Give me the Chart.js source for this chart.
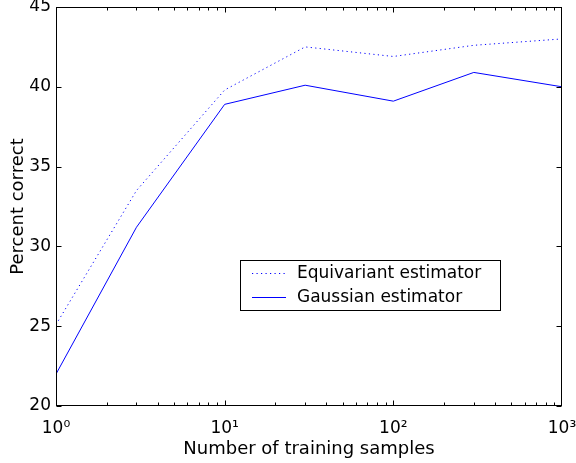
<!DOCTYPE html>
<html>
<head>
<meta charset="utf-8">
<script src="https://cdn.jsdelivr.net/npm/chart.js@4/dist/chart.umd.min.js"></script>
<style>
html,body{margin:0;padding:0;background:#fff;}
canvas{display:block;}
</style>
</head>
<body>
<canvas id="c" width="576" height="463"></canvas>
<script>
// ---- data ----
const samples = [1, 3, 10, 30, 100, 300, 1000];
const equivariant = [25.1, 33.5, 39.8, 42.5, 41.9, 42.6, 43.0];
const gaussian = [22.0, 31.2, 38.9, 40.1, 39.1, 40.9, 40.0];
const seriesLabels = ['Equivariant estimator', 'Gaussian estimator'];
const xTickValues = [1, 10, 100, 1000];
const xTickLabels = ['10\u2070', '10\u00B9', '10\u00B2', '10\u00B3'];
const yTickValues = [20, 25, 30, 35, 40, 45];
const xTitle = 'Number of training samples';
const yTitle = 'Percent correct';

const FONT = '"DejaVu Sans", "Liberation Sans", Arial, sans-serif';

const toPoints = ys => samples.map((x, i) => ({x: x, y: ys[i]}));

const framePlugin = {
  id: 'frame',
  afterDatasetsDraw(chart) {
    const ctx = chart.ctx;
    const a = chart.chartArea;
    const xs = chart.scales.x, ys = chart.scales.y;
    const L = Math.round(a.left) + 0.5, R = Math.round(a.right) - 0.5;
    const T = Math.round(a.top) + 0.5, B = Math.round(a.bottom) - 0.5;
    ctx.save();
    ctx.strokeStyle = '#000';
    ctx.lineWidth = 1;
    ctx.beginPath();
    yTickValues.forEach(v => {
      const p = Math.round(ys.getPixelForValue(v)) + 0.5;
      ctx.moveTo(L, p); ctx.lineTo(L + 5, p);
      ctx.moveTo(R, p); ctx.lineTo(R - 5, p);
    });
    for (let d = 0; d < 3; d++) {
      for (let m = 1; m <= 9; m++) {
        const v = m * Math.pow(10, d);
        const p = Math.round(xs.getPixelForValue(v)) + 0.5;
        const len = m === 1 ? 5 : 3;
        ctx.moveTo(p, B); ctx.lineTo(p, B - len);
        ctx.moveTo(p, T); ctx.lineTo(p, T + len);
      }
    }
    ctx.stroke();
    ctx.strokeRect(L, T, R - L, B - T);

    // legend box
    const bx = 240.5, by = 260.5, bw = 260, bh = 50;
    ctx.fillStyle = '#fff';
    ctx.fillRect(bx, by, bw, bh);
    ctx.strokeRect(bx, by, bw, bh);
    ctx.font = '17px ' + FONT;
    ctx.textBaseline = 'middle';
    ctx.textAlign = 'left';
    const rows = [273, 297];
    chart.data.datasets.forEach((ds, i) => {
      const y = rows[i] + 0.5;
      ctx.strokeStyle = ds.borderColor;
      ctx.lineWidth = ds.borderWidth;
      ctx.setLineDash(ds.borderDash || []);
      ctx.beginPath();
      ctx.moveTo(252, y); ctx.lineTo(286, y);
      ctx.stroke();
      ctx.setLineDash([]);
      ctx.fillStyle = '#000';
      ctx.fillText(ds.label, 297, rows[i] + 1);
    });
    ctx.restore();
  }
};

new Chart(document.getElementById('c'), {
  type: 'line',
  data: {
    datasets: [
      {
        label: seriesLabels[0],
        data: toPoints(equivariant),
        borderColor: '#0000ff',
        borderWidth: 1,
        borderDash: [1.2, 3.3],
        pointRadius: 0,
        tension: 0,
        fill: false
      },
      {
        label: seriesLabels[1],
        data: toPoints(gaussian),
        borderColor: '#0000ff',
        borderWidth: 1,
        pointRadius: 0,
        tension: 0,
        fill: false
      }
    ]
  },
  options: {
    responsive: false,
    animation: false,
    devicePixelRatio: 1,
    layout: {padding: {top: 7, right: 14, left: 0, bottom: 0}},
    plugins: {
      legend: {display: false},
      tooltip: {enabled: false}
    },
    scales: {
      x: {
        type: 'logarithmic',
        min: 1,
        max: 1000,
        afterBuildTicks: s => { s.ticks = xTickValues.map(v => ({value: v})); },
        afterFit: s => { s.height = 57; s.paddingLeft = 0; s.paddingRight = 0; },
        ticks: {
          autoSkip: false,
          maxRotation: 0,
          padding: 12,
          color: '#000',
          font: {family: FONT, size: 17},
          callback: v => { const i = xTickValues.indexOf(v); return i >= 0 ? xTickLabels[i] : ''; }
        },
        grid: {display: true, drawOnChartArea: false, drawTicks: false},
        border: {display: false},
        title: {
          display: true,
          text: xTitle,
          color: '#000',
          font: {family: FONT, size: 18, lineHeight: 1},
          padding: {top: 0, bottom: 5}
        }
      },
      y: {
        type: 'linear',
        min: 20,
        max: 45,
        afterBuildTicks: s => { s.ticks = yTickValues.map(v => ({value: v})); },
        afterFit: s => { s.width = 56; s.paddingTop = 0; s.paddingBottom = 0; },
        ticks: {
          padding: 5,
          color: '#000',
          font: {family: FONT, size: 17},
          callback: v => String(v)
        },
        grid: {display: true, drawOnChartArea: false, drawTicks: false},
        border: {display: false},
        title: {
          display: true,
          text: yTitle,
          color: '#000',
          font: {family: FONT, size: 18, lineHeight: 1},
          padding: {top: 9, bottom: 0}
        }
      }
    }
  },
  plugins: [framePlugin]
});
</script>
</body>
</html>
